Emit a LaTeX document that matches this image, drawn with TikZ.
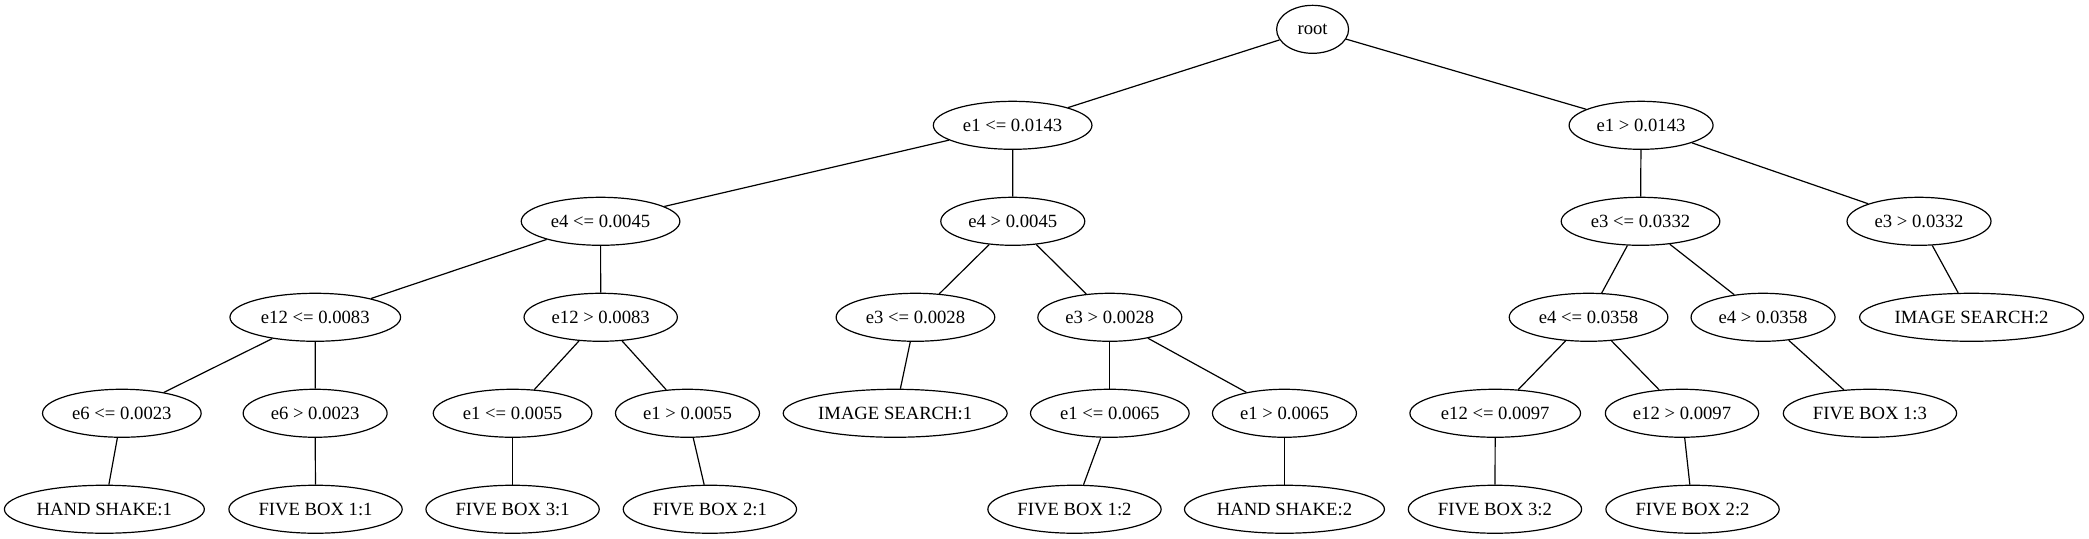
\documentclass[tikz,border=0pt]{standalone}
\usepackage{fontspec}
\setmainfont{Liberation Serif}
\usetikzlibrary{shapes.geometric}
\tikzset{
  nd/.style={draw, ellipse, minimum height=36pt, inner sep=0pt, line width=0.9pt, font=\fontsize{14}{16}\selectfont},
  edge/.style={line width=0.9pt}
}
\begin{document}
\begin{tikzpicture}[x=1pt,y=-1pt]
\useasboundingbox (0,0) rectangle (1567,404);
% level 0
\node[nd, minimum width=54pt] (root) at (984.6,22) {root};
% level 1
\node[nd, minimum width=119pt] (a) at (759.6,94) {e1 <= 0.0143};
\node[nd, minimum width=108pt] (b) at (1231,94) {e1 > 0.0143};
% level 2
\node[nd, minimum width=119pt] (aa) at (450.5,166) {e4 <= 0.0045};
\node[nd, minimum width=108pt] (ab) at (759.7,166) {e4 > 0.0045};
\node[nd, minimum width=119pt] (ba) at (1230.6,166) {e3 <= 0.0332};
\node[nd, minimum width=108pt] (bb) at (1439.5,166) {e3 > 0.0332};
% level 3
\node[nd, minimum width=128pt] (aaa) at (236.5,238) {e12 <= 0.0083};
\node[nd, minimum width=115pt] (aab) at (450.6,238) {e12 > 0.0083};
\node[nd, minimum width=119pt] (aba) at (686.7,238) {e3 <= 0.0028};
\node[nd, minimum width=108pt] (abb) at (832.5,238) {e3 > 0.0028};
\node[nd, minimum width=119pt] (baa) at (1191.6,238) {e4 <= 0.0358};
\node[nd, minimum width=108pt] (bab) at (1322.5,238) {e4 > 0.0358};
\node[nd, minimum width=168pt] (bba) at (1478.9,238) {IMAGE SEARCH:2};
% level 4
\node[nd, minimum width=119pt] (aaaa) at (91.4,310) {e6 <= 0.0023};
\node[nd, minimum width=108pt] (aaab) at (236.4,310) {e6 > 0.0023};
\node[nd, minimum width=119pt] (aaba) at (384.5,310) {e1 <= 0.0055};
\node[nd, minimum width=108pt] (aabb) at (515.7,310) {e1 > 0.0055};
\node[nd, minimum width=168pt] (abaa) at (671.5,310) {IMAGE SEARCH:1};
\node[nd, minimum width=119pt] (abba) at (832.5,310) {e1 <= 0.0065};
\node[nd, minimum width=108pt] (abbb) at (963.5,310) {e1 > 0.0065};
\node[nd, minimum width=128pt] (baaa) at (1121.6,310) {e12 <= 0.0097};
\node[nd, minimum width=115pt] (baab) at (1261.7,310) {e12 > 0.0097};
\node[nd, minimum width=130pt] (baba) at (1402.7,310) {FIVE BOX 1:3};
% level 5
\node[nd, minimum width=150pt] (l1) at (78.3,382) {HAND SHAKE:1};
\node[nd, minimum width=130pt] (l2) at (236.7,382) {FIVE BOX 1:1};
\node[nd, minimum width=130pt] (l3) at (384.5,382) {FIVE BOX 3:1};
\node[nd, minimum width=130pt] (l4) at (532.5,382) {FIVE BOX 2:1};
\node[nd, minimum width=130pt] (l5) at (806,382) {FIVE BOX 1:2};
\node[nd, minimum width=150pt] (l6) at (963.5,382) {HAND SHAKE:2};
\node[nd, minimum width=130pt] (l7) at (1121.4,382) {FIVE BOX 3:2};
\node[nd, minimum width=130pt] (l8) at (1269.6,382) {FIVE BOX 2:2};
% edges
\draw[edge] (root) -- (a);
\draw[edge] (root) -- (b);
\draw[edge] (a) -- (aa);
\draw[edge] (a) -- (ab);
\draw[edge] (b) -- (ba);
\draw[edge] (b) -- (bb);
\draw[edge] (aa) -- (aaa);
\draw[edge] (aa) -- (aab);
\draw[edge] (ab) -- (aba);
\draw[edge] (ab) -- (abb);
\draw[edge] (ba) -- (baa);
\draw[edge] (ba) -- (bab);
\draw[edge] (bb) -- (bba);
\draw[edge] (aaa) -- (aaaa);
\draw[edge] (aaa) -- (aaab);
\draw[edge] (aab) -- (aaba);
\draw[edge] (aab) -- (aabb);
\draw[edge] (aba) -- (abaa);
\draw[edge] (abb) -- (abba);
\draw[edge] (abb) -- (abbb);
\draw[edge] (baa) -- (baaa);
\draw[edge] (baa) -- (baab);
\draw[edge] (bab) -- (baba);
\draw[edge] (aaaa) -- (l1);
\draw[edge] (aaab) -- (l2);
\draw[edge] (aaba) -- (l3);
\draw[edge] (aabb) -- (l4);
\draw[edge] (abba) -- (l5);
\draw[edge] (abbb) -- (l6);
\draw[edge] (baaa) -- (l7);
\draw[edge] (baab) -- (l8);
\end{tikzpicture}
\end{document}
